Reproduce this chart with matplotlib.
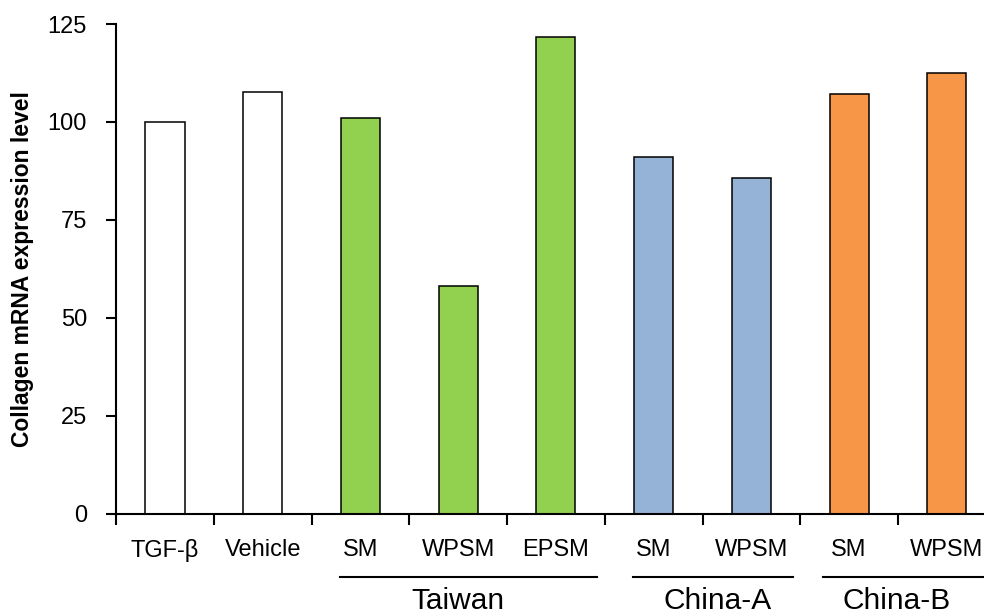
import numpy as np
import matplotlib as mpl
import matplotlib.pyplot as plt
from matplotlib.transforms import blended_transform_factory

mpl.rcParams['font.family'] = ['Liberation Sans', 'DejaVu Sans']

# data
labels = ['TGF-β', 'Vehicle', 'SM', 'WPSM', 'EPSM', 'SM', 'WPSM', 'SM', 'WPSM']
values = [100.0, 107.7, 101.0, 58.2, 121.7, 91.1, 85.7, 107.1, 112.5]
colors = ['white', 'white', '#92D050', '#92D050', '#92D050',
          '#95B3D7', '#95B3D7', '#F79646', '#F79646']
groups = ['Taiwan', 'China-A', 'China-B']
group_span = [(1.79, 4.42), (4.79, 6.43), (6.73, 8.38)]
group_mid = [3.0, 5.65, 7.49]
yticks = [0, 25, 50, 75, 100, 125]

fig = plt.figure(figsize=(9.84, 6.16), dpi=100)
ax = fig.add_axes([0.118, 0.166, 0.882, 0.795])

x = np.arange(len(labels))
ax.bar(x, values, width=0.4, color=colors, edgecolor='black', linewidth=1.1, zorder=2)

ax.set_xlim(-0.5, 8.38)
ax.set_ylim(0, 125)
ax.set_yticks(yticks)
ax.tick_params(axis='y', direction='out', length=7, width=1.5, labelsize=17, pad=14)

# tick marks between categories, labels at centres
ax.set_xticks(np.arange(-0.5, 8.5, 1.0))
ax.set_xticklabels([])
ax.tick_params(axis='x', which='major', direction='out', length=8, width=1.5)
ax.set_xticks(x, minor=True)
ax.set_xticklabels(labels, minor=True)
ax.tick_params(axis='x', which='minor', length=0, labelsize=17, pad=18)

for s in ['top', 'right']:
    ax.spines[s].set_visible(False)
for s in ['left', 'bottom']:
    ax.spines[s].set_linewidth(1.5)

ax.set_ylabel('Collagen mRNA expression level', fontsize=16.5, fontweight='bold')
ax.yaxis.set_label_coords(-0.095, 0.5)

trans = blended_transform_factory(ax.transData, ax.transAxes)
for name, (x0, x1), xm in zip(groups, group_span, group_mid):
    ax.plot([x0, x1], [-0.129, -0.129], color='black', linewidth=1.5,
            transform=trans, clip_on=False)
    ax.text(xm, -0.194, name, transform=trans, fontsize=21.5,
            ha='center', va='baseline')

fig.savefig('out.png', dpi=100)
